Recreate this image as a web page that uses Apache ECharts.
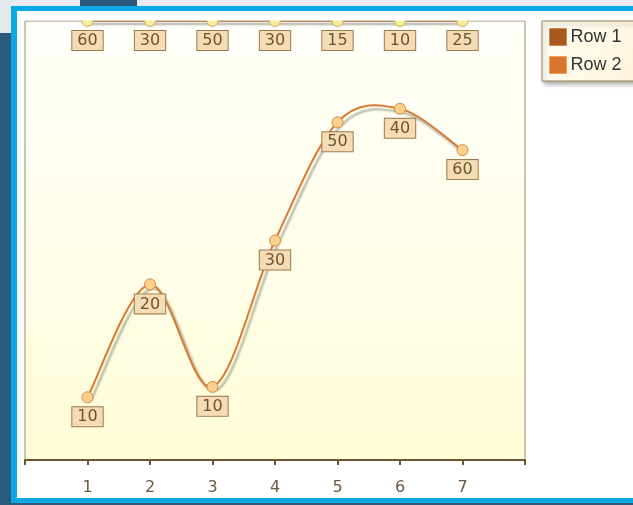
<!DOCTYPE html>
<html>
<head>
<meta charset="utf-8">
<script src="https://cdn.jsdelivr.net/npm/echarts@6/dist/echarts.min.js"></script>
<style>
html,body{margin:0;padding:0;background:#ffffff;}
#c{width:633px;height:505px;}
</style>
</head>
<body>
<div id="c"></div>
<script>
var categories = ['1','2','3','4','5','6','7'];
var row1 = [60, 30, 50, 30, 15, 10, 25];
var row2 = [10, 20, 10, 30, 50, 40, 60];
var seriesNames = ['Row 1', 'Row 2'];

var totals = categories.map(function(c, i){ return row1[i] + row2[i]; });
var row2Pct = categories.map(function(c, i){ return [i + 1, row2[i] / totals[i] * 100]; });
var row1Pct = categories.map(function(c, i){ return [i + 1, (row1[i] + row2[i]) / totals[i] * 100]; });

var chart = echarts.init(document.getElementById('c'), null, {renderer:'canvas'});

var labelStyle = {
  show: true,
  position: 'bottom',
  distance: 4,
  color: '#6b5530',
  fontFamily: 'DejaVu Sans',
  fontSize: 16,
  lineHeight: 16,
  backgroundColor: '#f6dcb4',
  borderColor: '#9a7a4c',
  borderWidth: 1,
  padding: [2, 5, 1, 5]
};

// Cardinal (Catmull-Rom) spline segment drawn through the library's coordinate system
function splineSegment(points, color, shadow) {
  return function(params, api) {
    var i = params.dataIndex;
    if (i === 0) return null;
    var n = points.length;
    var p0 = api.coord(points[Math.max(i - 2, 0)]);
    var p1 = api.coord(points[i - 1]);
    var p2 = api.coord(points[i]);
    var p3 = api.coord(points[Math.min(i + 1, n - 1)]);
    return {
      type: 'bezierCurve',
      silent: true,
      shape: {
        x1: p1[0], y1: p1[1],
        cpx1: p1[0] + (p2[0] - p0[0]) / 6, cpy1: p1[1] + (p2[1] - p0[1]) / 6,
        cpx2: p2[0] - (p3[0] - p1[0]) / 6, cpy2: p2[1] - (p3[1] - p1[1]) / 6,
        x2: p2[0], y2: p2[1]
      },
      style: {
        fill: null,
        stroke: color,
        lineWidth: 2,
        shadowColor: shadow,
        shadowBlur: 2,
        shadowOffsetX: 3,
        shadowOffsetY: 4
      }
    };
  };
}

var option = {
  animation: false,
  backgroundColor: '#ffffff',
  graphic: [
    {type:'rect', z:-10, silent:true, shape:{x:0,y:0,width:633,height:505}, style:{fill:'#2b5b7a'}},
    {type:'rect', z:-9, silent:true, shape:{x:0,y:0,width:633,height:6}, style:{fill:'#e9ecee'}},
    {type:'rect', z:-9, silent:true, shape:{x:0,y:0,width:11,height:33}, style:{fill:'#e3e8eb'}},
    {type:'rect', z:-9, silent:true, shape:{x:80,y:0,width:57,height:6}, style:{fill:'#2b5b7a'}},
    {type:'rect', z:-8, silent:true, shape:{x:11,y:6,width:622,height:497}, style:{fill:'#0aa9e6'}},
    {type:'rect', z:-7, silent:true, shape:{x:17,y:11,width:616,height:487}, style:{fill:'#ffffff'}},
    {type:'rect', z:100, silent:true, shape:{x:25,y:11,width:500,height:9.5}, style:{fill:'#ffffff'}}
  ],
  grid: {
    left: 25, right: 108, top: 21, bottom: 45,
    show: true,
    borderColor: '#a08a62',
    borderWidth: 1,
    backgroundColor: new echarts.graphic.LinearGradient(0, 0, 0, 1, [
      {offset: 0, color: '#fffffb'},
      {offset: 1, color: '#fffcd8'}
    ])
  },
  legend: {
    orient: 'vertical',
    left: 542, top: 21,
    padding: [7, 40, 7, 7],
    itemWidth: 17, itemHeight: 17, itemGap: 10,
    icon: 'rect',
    backgroundColor: new echarts.graphic.LinearGradient(0, 0, 1, 1, [
      {offset: 0, color: '#fffdf3'},
      {offset: 1, color: '#fff3d6'}
    ]),
    borderColor: '#9a8058',
    borderWidth: 1,
    shadowColor: 'rgba(0,0,0,0.3)',
    shadowBlur: 4, shadowOffsetX: 2, shadowOffsetY: 3,
    textStyle: {fontFamily: 'Liberation Sans', fontSize: 18, color: '#333333', padding: [0,0,0,-1]},
    data: [
      {name: seriesNames[0], itemStyle: {color: '#a85a1e', borderColor: '#c98a55', borderWidth: 1}},
      {name: seriesNames[1], itemStyle: {color: '#d9762c', borderColor: '#eda060', borderWidth: 1}}
    ]
  },
  xAxis: {
    type: 'value', min: 0, max: 8, interval: 1,
    splitLine: {show: false},
    axisLine: {show: true, lineStyle: {color: '#6e5630', width: 2}},
    axisTick: {show: true, length: 5, lineStyle: {color: '#6e5630', width: 2}},
    axisLabel: {
      margin: 20,
      color: '#6b5a40',
      fontFamily: 'DejaVu Sans',
      fontSize: 16,
      formatter: function(v){ return (v >= 1 && v <= categories.length) ? categories[v - 1] : ''; }
    }
  },
  yAxis: {
    type: 'value', min: 0, max: 100,
    show: false,
    splitLine: {show: false}
  },
  series: [
    {
      name: seriesNames[1],
      type: 'custom',
      z: 2,
      clip: false,
      data: row2Pct,
      renderItem: splineSegment(row2Pct, '#d97a32', 'rgba(70,70,50,0.45)')
    },
    {
      name: seriesNames[1],
      type: 'line',
      data: row2Pct,
      symbol: 'circle',
      symbolSize: 11,
      z: 4,
      lineStyle: {opacity: 0},
      itemStyle: {color: '#fdd08c', borderColor: '#cf8a42', borderWidth: 1},
      label: Object.assign({}, labelStyle, {formatter: function(p){ return String(row2[p.dataIndex]); }})
    },
    {
      name: seriesNames[0],
      type: 'line',
      data: row1Pct,
      symbol: 'circle',
      symbolSize: 11,
      z: 3,
      clip: false,
      lineStyle: {color: '#b09070', width: 2, shadowColor: 'rgba(70,70,50,0.45)', shadowBlur: 2, shadowOffsetX: 3, shadowOffsetY: 3},
      itemStyle: {color: '#f9ec9a', borderColor: '#c8b062', borderWidth: 1},
      label: Object.assign({}, labelStyle, {formatter: function(p){ return String(row1[p.dataIndex]); }})
    }
  ]
};
chart.setOption(option);
</script>
</body>
</html>
